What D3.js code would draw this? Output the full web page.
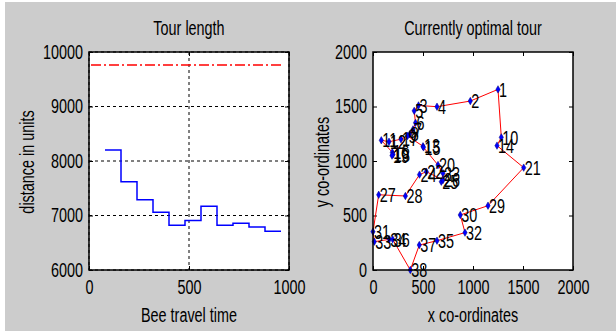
<!DOCTYPE html>
<html>
<head>
<meta charset="utf-8">
<script src="https://cdn.jsdelivr.net/npm/d3@7"></script>
<style>
  body { margin: 0; background: #fff; }
  svg text { font-family: "Liberation Sans Narrow", "Arial Narrow", "Liberation Sans", Arial, sans-serif; font-size: 20px; fill: #000; }
</style>
</head>
<body>
<div id="chart"></div>
<script>
// left panel: tour length over time (step plot)
const stepTimes = [80, 160, 240, 320, 400, 480, 560, 640, 720, 800, 880];
const stepEnd = 960;
const tourLengths = [8200, 7620, 7290, 7060, 6820, 6910, 7170, 6820, 6860, 6790, 6710];
const initialLength = 9760;
const initialSpan = [10, 960];
const timeTicks = [0, 500, 1000];
const lengthTicks = [6000, 7000, 8000, 9000, 10000];

// right panel: cities and current tour
const cityIds = [1, 2, 3, 4, 5, 6, 7, 8, 9, 10, 11, 12, 13, 14, 15, 16, 17, 18, 19,
  20, 21, 22, 23, 24, 25, 26, 27, 28, 29, 30, 31, 32, 33, 34, 35, 36, 37, 38];
const cityX = [1250, 973, 455, 640, 412, 425, 400, 367, 345, 1283, 83, 160, 500, 1240, 505, 193, 280, 200, 190,
  650, 1507, 533, 700, 465, 683, 700, 57, 324, 1150, 873, 0, 920, 13, 163, 640, 197, 463, 373];
const cityY = [1657, 1550, 1510, 1498, 1460, 1350, 1290, 1245, 1230, 1217, 1190, 1177, 1135, 1141, 1125, 1080, 1200, 1060, 1050,
  963, 939, 902, 887, 875, 810, 826, 690, 679, 590, 505, 352, 343, 260, 281, 269, 281, 229, 0];
const tourOrder = [1, 10, 14, 21, 29, 30, 32, 35, 37, 38, 36, 34, 33, 31, 27, 28, 24, 22, 26, 25, 23, 20,
  15, 13, 9, 17, 12, 11, 16, 18, 19, 8, 7, 6, 5, 3, 4, 2, 1];
const coordTicks = [0, 500, 1000, 1500, 2000];

const W = 616, H = 331;
const svg = d3.select('#chart').append('svg').attr('width', W).attr('height', H);

svg.append('rect').attr('x', 5).attr('y', 2).attr('width', W - 5).attr('height', H - 2).attr('fill', '#cccccc');

function drawFrame(x, y, xTicks, yTicks, grid) {
  const [x0, x1] = x.range();
  const [y0, y1] = y.range();
  const g = svg.append('g');
  g.append('rect')
    .attr('x', x0).attr('y', y1)
    .attr('width', x1 - x0).attr('height', y0 - y1)
    .attr('fill', '#fff');

  if (grid) {
    g.selectAll('.gx').data(xTicks).enter().append('line')
      .attr('x1', d => x(d)).attr('x2', d => x(d))
      .attr('y1', y1).attr('y2', y0)
      .attr('stroke', '#000').attr('stroke-dasharray', '3,3');
    g.selectAll('.gy').data(yTicks).enter().append('line')
      .attr('x1', x0).attr('x2', x1)
      .attr('y1', d => y(d)).attr('y2', d => y(d))
      .attr('stroke', '#000').attr('stroke-dasharray', '3,3');
  }

  const fmt = d3.format('d');
  g.append('g').attr('transform', `translate(0,${y0})`)
    .call(d3.axisBottom(x).tickValues(xTicks).tickFormat(fmt).tickSizeInner(-4).tickSizeOuter(0).tickPadding(10));
  const left = g.append('g').attr('transform', `translate(${x0},0)`)
    .call(d3.axisLeft(y).tickValues(yTicks).tickFormat(fmt).tickSizeInner(-4).tickSizeOuter(0).tickPadding(10));
  g.append('g').attr('transform', `translate(0,${y1})`)
    .call(d3.axisTop(x).tickValues(xTicks).tickSizeInner(-4).tickSizeOuter(0).tickFormat(''));
  g.append('g').attr('transform', `translate(${x1},0)`)
    .call(d3.axisRight(y).tickValues(yTicks).tickSizeInner(-4).tickSizeOuter(0).tickFormat(''));

  g.selectAll('.domain').remove();
  g.selectAll('.tick line').attr('stroke', '#000');
  g.selectAll('.tick text').attr('font-size', null).attr('font-family', null).attr('fill', '#000');
  left.selectAll('.tick text').attr('x', -6);
  return g;
}

function drawBox(x, y) {
  const [x0, x1] = x.range();
  const [y0, y1] = y.range();
  svg.append('rect')
    .attr('x', x0).attr('y', y1)
    .attr('width', x1 - x0).attr('height', y0 - y1)
    .attr('fill', 'none').attr('stroke', '#000').attr('stroke-width', 1.5);
}

function labels(cx, title, xLabel, yLabel, yLabelX) {
  svg.append('text').attr('x', cx).attr('y', 35).attr('text-anchor', 'middle').text(title);
  svg.append('text').attr('x', cx).attr('y', 322).attr('text-anchor', 'middle').text(xLabel);
  svg.append('text')
    .attr('transform', `translate(${yLabelX},162) rotate(-90)`)
    .attr('text-anchor', 'middle').attr('dy', '0.35em')
    .text(yLabel);
}

// ---- left panel
const xT = d3.scaleLinear().domain([0, 1000]).range([89, 289]);
const yL = d3.scaleLinear().domain([6000, 10000]).range([270, 52]);
drawFrame(xT, yL, timeTicks, lengthTicks, true);

svg.append('line')
  .attr('x1', xT(initialSpan[0])).attr('x2', xT(initialSpan[1]))
  .attr('y1', yL(initialLength)).attr('y2', yL(initialLength))
  .attr('stroke', '#ff0000').attr('stroke-width', 1.5)
  .attr('stroke-dasharray', '10,3,2,3');

const steps = stepTimes.map((t, i) => [t, tourLengths[i]]);
steps.push([stepEnd, tourLengths[tourLengths.length - 1]]);
svg.append('path')
  .datum(steps)
  .attr('d', d3.line().x(d => xT(d[0])).y(d => yL(d[1])).curve(d3.curveStepAfter))
  .attr('fill', 'none').attr('stroke', '#0000ff').attr('stroke-width', 1.5);

drawBox(xT, yL);
labels(189, 'Tour length', 'Bee travel time', 'distance in units', 27);

// ---- right panel
const xC = d3.scaleLinear().domain([0, 2000]).range([373, 573]);
const yC = d3.scaleLinear().domain([0, 2000]).range([270, 52]);
drawFrame(xC, yC, coordTicks, coordTicks, false);

const cityIndex = id => cityIds.indexOf(id);
svg.append('path')
  .datum(tourOrder.map(cityIndex))
  .attr('d', d3.line().x(i => xC(cityX[i])).y(i => yC(cityY[i])))
  .attr('fill', 'none').attr('stroke', '#ff0000').attr('stroke-width', 1);

const diamond = d3.symbol().type(d3.symbolDiamond).size(16);
svg.selectAll('.city').data(cityIds).enter().append('path')
  .attr('class', 'city')
  .attr('transform', (d, i) => `translate(${xC(cityX[i])},${yC(cityY[i])})`)
  .attr('d', diamond)
  .attr('fill', '#0000ff').attr('stroke', '#000080').attr('stroke-width', 0.5);

svg.selectAll('.cityLabel').data(cityIds).enter().append('text')
  .attr('class', 'cityLabel')
  .attr('x', (d, i) => xC(cityX[i]) + 1)
  .attr('y', (d, i) => yC(cityY[i]))
  .attr('dy', '0.36em')
  .text(d => d);

drawBox(xC, yC);
labels(473, 'Currently optimal tour', 'x co-ordinates', 'y co-ordinates', 322);

// the original lettering is a tall, narrow face: squeeze the glyphs sideways
svg.selectAll('text').each(function () {
  const len = this.getComputedTextLength();
  if (len > 0) {
    d3.select(this).attr('textLength', len * 0.72).attr('lengthAdjust', 'spacingAndGlyphs');
  }
});
</script>
</body>
</html>
